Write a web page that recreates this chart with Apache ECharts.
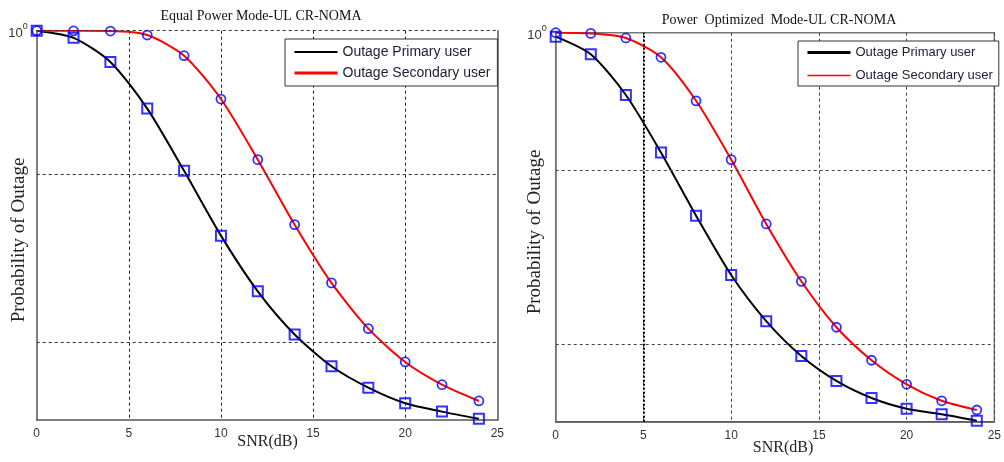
<!DOCTYPE html>
<html>
<head>
<meta charset="utf-8">
<script src="https://cdn.jsdelivr.net/npm/echarts@6/dist/echarts.min.js"></script>
<style>
  html, body { margin: 0; padding: 0; background: #fff; }
  #chart { width: 1004px; height: 462px; }
</style>
</head>
<body>
<div id="chart"></div>
<script>
// SNR points (dB) where the outage probability was evaluated
const snr = [0, 2, 4, 6, 8, 10, 12, 14, 16, 18, 20, 22, 24];

// Equal power mode
const eqPrimary   = [1.0, 0.90, 0.63, 0.316, 0.126, 0.0483, 0.0212, 0.0112, 0.0070, 0.0051, 0.00405, 0.00358, 0.00322];
const eqSecondary = [1.0, 0.998, 0.995, 0.938, 0.691, 0.364, 0.1485, 0.0568, 0.0240, 0.0122, 0.00746, 0.00533, 0.00419];

// Power optimized mode
const optPrimary   = [0.943, 0.726, 0.398, 0.170, 0.0667, 0.0277, 0.0140, 0.00836, 0.00578, 0.00449, 0.00383, 0.00353, 0.00321];
const optSecondary = [1.0, 0.99, 0.925, 0.695, 0.365, 0.153, 0.059, 0.02525, 0.01279, 0.00785, 0.0055, 0.00431, 0.00376];

const xTicks = [0, 5, 10, 15, 20, 25];
const seriesNames = ['Outage Primary user', 'Outage Secondary user'];
const panelTitles = ['Equal Power Mode-UL CR-NOMA', 'Power  Optimized  Mode-UL CR-NOMA'];

// horizontal guide levels of each panel
const leftGuides = [1, 0.1155, 0.01006];
const rightGuides = [0.1291, 0.01086];

const pairs = ys => snr.map((x, i) => [x, ys[i]]);

const SERIF = '"Liberation Serif", "Times New Roman", serif';
const SANS = '"Liberation Sans", Arial, sans-serif';
const Y_MIN = Math.pow(10, -2.5);

function xAxisFor(gridIndex, gridColor, showMax) {
  return {
    type: 'value', gridIndex, min: xTicks[0], max: xTicks[xTicks.length - 1], interval: 5,
    axisLine: { show: true, lineStyle: { color: '#555', width: 1.5 } },
    axisTick: { show: false },
    axisLabel: { color: '#333', fontFamily: SANS, fontSize: 12, margin: 8 },
    splitLine: { show: true, showMinLine: false, showMaxLine: showMax, lineStyle: { color: gridColor, type: [3, 3], width: 1 } }
  };
}

function yAxisFor(gridIndex, axisColor) {
  return {
    type: 'log', logBase: 10, gridIndex, min: Y_MIN, max: 1,
    axisLine: { show: true, lineStyle: { color: axisColor, width: 1.5 } },
    axisTick: { show: false },
    splitLine: { show: false },
    axisLabel: {
      showMaxLabel: true, margin: 9,
      formatter: v => Math.abs(v - 1) < 1e-9 ? '{b|10}{s|0}' : '',
      rich: {
        b: { fontFamily: SANS, fontSize: 13, color: '#333', lineHeight: 18, verticalAlign: 'bottom' },
        s: { fontFamily: SANS, fontSize: 9, color: '#333', lineHeight: 18, verticalAlign: 'top', padding: [0, 0, 8, 0] }
      }
    }
  };
}

function curve(name, data, color, width, xi, yi, guides) {
  const s = {
    name, type: 'line', xAxisIndex: xi, yAxisIndex: yi, data,
    symbol: 'none', smooth: 0.25,
    lineStyle: { color, width }, itemStyle: { color }, z: 3
  };
  if (guides) {
    s.markLine = {
      silent: true, symbol: 'none', label: { show: false },
      lineStyle: { color: '#333', type: [3, 3], width: 1 },
      data: guides.map(v => ({ yAxis: v }))
    };
  }
  return s;
}

function markers(data, shape, size, border, xi, yi) {
  return {
    type: 'scatter', xAxisIndex: xi, yAxisIndex: yi, data,
    symbol: shape, symbolSize: size,
    itemStyle: { color: 'rgba(0,0,0,0)', borderColor: '#0000ff', borderWidth: border },
    z: 5
  };
}

function legendFor(left, top, padding, gap, fontSize, widths) {
  return {
    orient: 'vertical', left, top, padding, itemGap: gap,
    itemWidth: 43, itemHeight: 14,
    backgroundColor: '#fff', borderColor: '#333', borderWidth: 1,
    textStyle: { fontFamily: SANS, fontSize, color: '#1d1d33' },
    selectedMode: false, z: 10,
    data: seriesNames.map((n, i) => ({
      name: n,
      itemStyle: { opacity: 0 },
      lineStyle: { width: widths[i], opacity: 1 }
    }))
  };
}

const chart = echarts.init(document.getElementById('chart'), null, { renderer: 'canvas' });

chart.setOption({
  animation: false,
  backgroundColor: '#fff',
  grid: [
    { left: 36.7, top: 30.7, width: 460.6, height: 389.3 },
    { left: 555.7, top: 32.7, width: 446.5, height: 389, show: true, borderColor: '#777', borderWidth: 1.5, backgroundColor: 'rgba(0,0,0,0)' }
  ],
  xAxis: [xAxisFor(0, '#222', false), xAxisFor(1, '#444', true)],
  yAxis: [
    yAxisFor(0, '#555'),
    Object.assign(yAxisFor(0, '#555'), { position: 'right', axisLabel: { show: false } }),
    yAxisFor(1, '#777')
  ],
  legend: [
    legendFor(285, 39, [6, 7, 6, 8], 7, 14, [2, 3]),
    legendFor(798, 41, [5, 6, 4, 8], 10, 13, [3, 1.5])
  ],
  graphic: [
    { type: 'text', x: 261, y: 16, style: { text: panelTitles[0], font: '14px ' + SERIF, fill: '#111', textAlign: 'center', textVerticalAlign: 'middle' } },
    { type: 'text', x: 779, y: 20.5, style: { text: panelTitles[1], font: '14px ' + SERIF, fill: '#111', textAlign: 'center', textVerticalAlign: 'middle' } },
    { type: 'text', x: 19, y: 240, rotation: Math.PI / 2, style: { text: 'Probability of Outage', font: '19px ' + SERIF, fill: '#222', textAlign: 'center', textVerticalAlign: 'middle' } },
    { type: 'text', x: 535, y: 232, rotation: Math.PI / 2, style: { text: 'Probability of Outage', font: '19px ' + SERIF, fill: '#222', textAlign: 'center', textVerticalAlign: 'middle' } },
    { type: 'text', x: 267.5, y: 441.5, style: { text: 'SNR(dB)', font: '16px ' + SERIF, fill: '#222', textAlign: 'center', textVerticalAlign: 'middle' } },
    { type: 'text', x: 783, y: 448, style: { text: 'SNR(dB)', font: '16px ' + SERIF, fill: '#222', textAlign: 'center', textVerticalAlign: 'middle' } }
  ],
  series: [
    curve(seriesNames[0], pairs(eqPrimary), '#000', 2, 0, 0, leftGuides),
    curve(seriesNames[1], pairs(eqSecondary), '#ff0000', 2, 0, 0, null),
    markers(pairs(eqPrimary), 'rect', 10, 2, 0, 0),
    markers(pairs(eqSecondary), 'circle', 9, 1.8, 0, 0),

    Object.assign(curve(seriesNames[0], pairs(optPrimary), '#000', 2, 1, 2, rightGuides), {
      markLine: {
        silent: true, symbol: 'none', label: { show: false },
        lineStyle: { color: '#444', type: [3, 3], width: 1 },
        data: rightGuides.map(v => ({ yAxis: v })).concat([{ xAxis: 5, lineStyle: { color: '#000', width: 2, type: [2, 2] } }])
      }
    }),
    curve(seriesNames[1], pairs(optSecondary), '#ff0000', 2, 1, 2, null),
    markers(pairs(optPrimary), 'rect', 10, 2, 1, 2),
    markers(pairs(optSecondary), 'circle', 9, 1.8, 1, 2)
  ]
});
</script>
</body>
</html>
